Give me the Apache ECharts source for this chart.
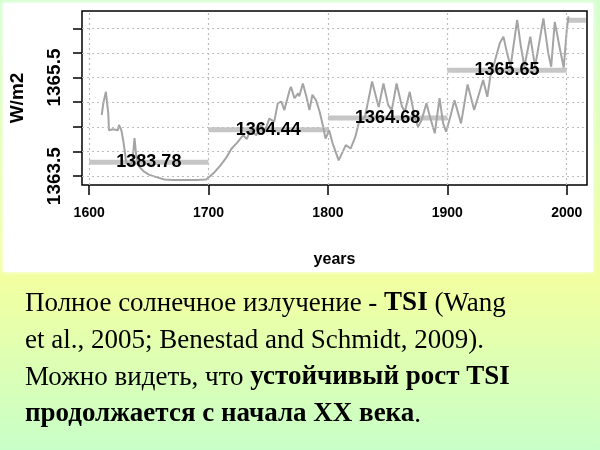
<!DOCTYPE html>
<html><head><meta charset="utf-8">
<script src="https://cdn.jsdelivr.net/npm/echarts@6/dist/echarts.min.js"></script>
<style>html,body{margin:0;padding:0;background:#fff}#c{width:600px;height:450px;}</style>
</head><body><div id="c"></div>
<script>
// TSI reconstruction
const years = [1610.5,1612,1614,1615,1616,1616.6,1620,1624,1625,1627,1628.5,1630,1631,1633,1636,1638,1639.5,1642,1646,1650,1655,1663,1670,1680,1690,1698,
1700,1705,1710,1715,1719,1724,1729,1732,1735,1740,1744,1747,1751,1755,1758,1761,1763.5,1768,1769,1772,1775,1776,1779,1782,1784.5,1787,1790,1793,1796,1798,
1801,1804,1809,1815,1819,1823,1826,1831,1837,1841,1842.5,1846.5,1850.5,1853.5,1857.5,1862,1864.5,1868.5,1873,1875.5,1878.5,1882.5,1885.5,1889.5,1893.5,1896.5,1899,
1900.5,1903,1906,1911.5,1917,1922.5,1930,1933.5,1936,1940,1944,1947,1950,1953,1958.5,1961.5,1964.5,1969.5,1973.5,1980.5,1984.5,1987,1990,1994.5,1997.5,2000,2001.5];
const tsi = [1364.74,1365.0,1365.21,1365.18,1364.77,1364.43,1364.45,1364.43,1364.54,1364.43,1364.23,1363.97,1363.79,1363.75,1363.75,1364.27,1363.89,1363.69,1363.59,1363.53,1363.49,1363.43,1363.42,1363.42,1363.42,1363.43,
1363.47,1363.58,1363.72,1363.88,1364.05,1364.18,1364.33,1364.25,1364.43,1364.33,1364.54,1364.40,1364.67,1364.60,1364.98,1365.01,1364.84,1365.25,1365.31,1365.08,1365.18,1365.12,1365.38,1365.11,1364.84,1365.15,1365.04,1364.81,1364.50,1364.26,
1364.43,1364.16,1363.82,1364.13,1364.06,1364.30,1364.60,1364.70,1365.42,1365.04,1364.90,1365.38,1364.94,1364.84,1365.38,1364.91,1364.81,1365.21,1364.67,1364.50,1364.64,1364.98,1364.70,1364.37,1365.08,1364.57,1364.40,
1364.43,1364.75,1365.04,1364.57,1365.36,1364.84,1365.45,1365.11,1365.52,1365.85,1366.20,1366.33,1366.00,1365.72,1366.67,1366.15,1365.72,1366.33,1365.72,1366.70,1366.00,1365.72,1366.63,1366.06,1365.70,1366.45,1366.74];
// century means
const segStart = [1600,1700,1800,1900,2000];
const segEnd   = [1700,1800,1900,2000,2016];
const segMean  = [1363.78,1364.44,1364.68,1365.65,1366.66];
const segLabels = ['1383.78','1364.44','1364.68','1365.65'];
// axes
const xTicks = [1600,1700,1800,1900,2000];
const yTicks = [1363.5,1364,1364.5,1365,1365.5,1366,1366.5];
const yLabelVals = [1363.5,1365.5];

const chart = echarts.init(document.getElementById('c'), null, {renderer:'canvas'});
const sans = "'Liberation Sans',Arial,sans-serif";
const serif = "'Liberation Serif','Times New Roman',serif";

const segSeries = segStart.map((s,i)=>({
  type:'line', data:[[s,segMean[i]],[segEnd[i],segMean[i]]], symbol:'none',
  lineStyle:{color:'#c6c6c6', width:5}, z:2, silent:true
}));

const gridLines = {
  type:'line', data:[], silent:true, z:1,
  markLine:{ symbol:['none','none'], silent:true, label:{show:false},
    lineStyle:{color:'#bdbdbd', width:1.2, type:[2,3]},
    data: xTicks.map(v=>({xAxis:v})).concat(yTicks.map(v=>({yAxis:v}))) }
};

chart.setOption({
  animation:false,
  backgroundColor: new echarts.graphic.LinearGradient(0,0,0,1,[
    {offset:0,color:'#d6ffd2'},{offset:0.62,color:'#f2ffa0'},{offset:1,color:'#c8ffc8'}]),
  graphic:[
    {type:'rect', z:-10, shape:{x:3,y:3,width:590,height:269}, style:{fill:'#fff', shadowColor:'#fff', shadowBlur:4}},
    {type:'text', left:25, top:290, style:{
      text:'{n|Полное солнечное излучение - }{b|TSI}{n| (Wang}\n{n|et al., 2005; Benestad and Schmidt, 2009).}\n{n|Можно видеть, что }{b|устойчивый рост TSI}\n{b|продолжается с начала XX века}{n|.}',
      rich:{
        n:{fontFamily:serif, fontSize:27, lineHeight:37, fill:'#000'},
        b:{fontFamily:serif, fontSize:27, lineHeight:37, fontWeight:'bold', fill:'#000'}
      }}}
  ],
  grid:{left:77, top:11, right:13, bottom:265, show:true, borderColor:'#000', borderWidth:1.5, backgroundColor:'#fff'},
  xAxis:{type:'value', min:1594, max:2017,
    name:'years', nameLocation:'middle', nameGap:67,
    nameTextStyle:{fontFamily:sans, fontWeight:'bold', fontSize:16, color:'#000'},
    axisLine:{show:false}, splitLine:{show:false},
    axisTick:{show:true, inside:false, length:10, lineStyle:{color:'#000', width:1.5}, customValues:xTicks},
    axisLabel:{customValues:xTicks, margin:21, formatter:v=>String(v), fontFamily:sans, fontWeight:'bold', fontSize:14, color:'#000'}
  },
  yAxis:{type:'value', min:1363.32, max:1366.85,
    name:'W/m2', nameLocation:'middle', nameGap:55, nameRotate:90,
    nameTextStyle:{fontFamily:sans, fontWeight:'bold', fontSize:19, color:'#000'},
    axisLine:{show:false}, splitLine:{show:false},
    axisTick:{show:true, inside:false, length:9, lineStyle:{color:'#000', width:1.5}, customValues:yTicks},
    axisLabel:{customValues:yLabelVals, rotate:90, margin:18, formatter:v=>v.toFixed(1), fontFamily:sans, fontWeight:'bold', fontSize:19, color:'#000'}
  },
  series:[gridLines].concat(segSeries).concat([
    {type:'line', data:years.map((y,i)=>[y,tsi[i]]), symbol:'none', z:3, silent:true,
      lineStyle:{color:'#a4a4a4', width:2}},
    {type:'scatter', z:5, silent:true, symbolSize:0, itemStyle:{color:'#000', opacity:1},
      data:segLabels.map((t,i)=>[(segStart[i]+segEnd[i])/2, segMean[i]]),
      label:{show:true, position:[0,0], align:'center', verticalAlign:'middle', formatter:p=>segLabels[p.dataIndex],
        fontFamily:sans, fontWeight:'bold', fontSize:18, color:'#000', opacity:1, textBorderWidth:0}}
  ])
});
</script></body></html>
